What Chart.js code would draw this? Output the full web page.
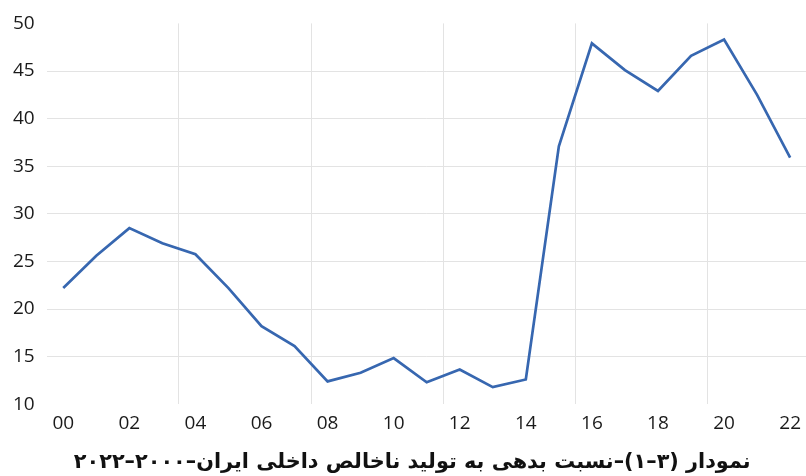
<!DOCTYPE html>
<html>
<head>
<meta charset="utf-8">
<script src="https://cdn.jsdelivr.net/npm/chart.js@4/dist/chart.umd.min.js"></script>
<style>
html,body{margin:0;padding:0;background:#fff;overflow:hidden;}
#wrap{width:806px;height:476px;position:relative;overflow:hidden;}
</style>
</head>
<body>
<div id="wrap"><canvas id="c" width="809" height="476"></canvas></div>
<script>
const years = ['00','01','02','03','04','05','06','07','08','09','10','11','12','13','14','15','16','17','18','19','20','21','22'];
const debtRatio = [22.2,25.6,28.5,26.9,25.75,22.2,18.2,16.1,12.4,13.3,14.85,12.3,13.65,11.8,12.6,37.1,47.9,45.1,42.9,46.6,48.3,42.5,35.9];
const yTicks = [10,15,20,25,30,35,40,45,50];
const titleText = 'نمودار (۳–۱)–نسبت بدهی به تولید ناخالص داخلی ایران–۲۰۰۰–۲۰۲۲';

const gridColor = '#e3e3e3';
new Chart(document.getElementById('c'), {
  type: 'line',
  data: {
    labels: years,
    datasets: [{
      data: debtRatio,
      borderColor: '#3767b0',
      borderWidth: 2.7,
      pointRadius: 0,
      tension: 0,
      fill: false
    }]
  },
  options: {
    responsive: false,
    animation: false,
    devicePixelRatio: 1,
    layout: { padding: { top: 20, left: 1, right: 0, bottom: 0 } },
    plugins: {
      legend: { display: false },
      tooltip: { enabled: false },
      title: {
        display: true,
        position: 'bottom',
        text: '\u00A0\u00A0' + titleText,
        color: '#111',
        font: { family: "'DejaVu Sans', sans-serif", size: 20.8, weight: 'bold' },
        padding: { top: 7, bottom: 1 }
      }
    },
    scales: {
      x: {
        offset: true,
        grid: {
          offset: true,
          drawTicks: false,
          lineWidth: 1,
          color: (ctx) => (ctx.index > 0 && ctx.index < years.length && ctx.index % 4 === 0) ? gridColor : 'rgba(0,0,0,0)'
        },
        border: { display: false },
        ticks: {
          autoSkip: false,
          maxRotation: 0,
          padding: 8,
          color: '#1a1a1a',
          font: { family: "'Open Sans', sans-serif", size: 19 },
          callback: (v, i) => (i % 2 === 0 ? years[i] : '')
        }
      },
      y: {
        min: yTicks[0],
        max: yTicks[yTicks.length - 1],
        afterBuildTicks: (scale) => { scale.ticks = yTicks.map(v => ({ value: v })); },
        grid: {
          drawTicks: false,
          lineWidth: 1,
          color: (ctx) => (ctx.tick && (ctx.tick.value === 10 || ctx.tick.value === 50)) ? 'rgba(0,0,0,0)' : gridColor
        },
        border: { display: false },
        ticks: {
          padding: 12,
          color: '#1a1a1a',
          font: { family: "'Open Sans', sans-serif", size: 19 }
        }
      }
    }
  }
});
</script>
</body>
</html>
